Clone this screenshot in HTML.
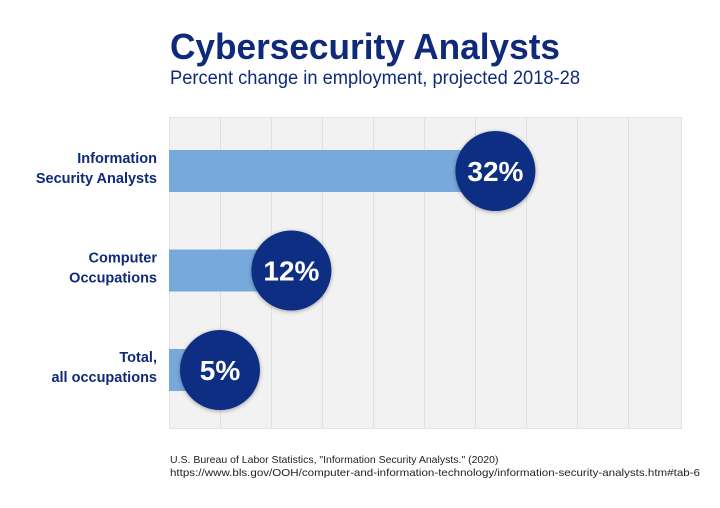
<!DOCTYPE html>
<html><head><meta charset="utf-8"><style>
body{margin:0;background:#fff;width:720px;height:503px;overflow:hidden;font-family:"Liberation Sans",sans-serif}
</style></head><body>
<svg width="720" height="503">
<defs><filter id="sh" x="-30%" y="-30%" width="160%" height="160%"><feDropShadow dx="0" dy="1" stdDeviation="2" flood-opacity="0.35"/></filter></defs>
<text x="170" y="59" font-size="36" font-weight="bold" fill="#0f2a7a" textLength="390" lengthAdjust="spacingAndGlyphs">Cybersecurity Analysts</text>
<text x="170" y="84" font-size="19" fill="#0f2a7a" textLength="410" lengthAdjust="spacingAndGlyphs">Percent change in employment, projected 2018-28</text>
<rect x="169.5" y="117.5" width="512" height="311" fill="#f2f2f2" stroke="#e3e3e3"/>
<g id="grid"></g><g id="bars"></g>
<text x="170" y="463" font-size="10.5" fill="#222">U.S. Bureau of Labor Statistics, "Information Security Analysts." (2020)</text>
<text x="170" y="476" font-size="10.5" fill="#222" textLength="530" lengthAdjust="spacingAndGlyphs">https://www.bls.gov/OOH/computer-and-information-technology/information-security-analysts.htm#tab-6</text>
</svg>
<script>
const categories=[["Information","Security Analysts"],["Computer","Occupations"],["Total,","all occupations"]];
const values=[32,12,5];
const valueLabels=["32%","12%","5%"];
const gridTicks=[5,10,15,20,25,30,35,40,45];
const NS="http://www.w3.org/2000/svg";
const x=v=>169+v*10.2;
const yc=i=>171+i*99.5;
function mk(t,a,p){const e=document.createElementNS(NS,t);for(const k in a)e.setAttribute(k,a[k]);p.appendChild(e);return e;}
const g=document.getElementById('grid'),b=document.getElementById('bars');
gridTicks.forEach(t=>{const px=Math.round(x(t))+0.5;const l=mk('line',{x1:px,x2:px,y1:118,y2:428,stroke:'#e0e0e0','stroke-width':1},g);

});
values.forEach((v,i)=>{
const r=mk('rect',{x:169,y:yc(i)-21,width:x(v)-169,height:42,fill:'#78a9dc'},b);


const c=mk('circle',{cx:x(v),cy:yc(i),r:40,fill:'#0f2d82',filter:'url(#sh)'},b);


const t=mk('text',{x:x(v),y:yc(i)+10,'text-anchor':'middle','font-size':28,'font-weight':'bold',fill:'#fff'},b);
t.textContent=valueLabels[i];


categories[i].forEach((s,j)=>{const ct=mk('text',{x:157,y:yc(i)-8+j*20,'text-anchor':'end','font-size':14.5,'font-weight':'bold',fill:'#0f2a7a'},b);
ct.textContent=s;

});
});
</script>
</body></html>
